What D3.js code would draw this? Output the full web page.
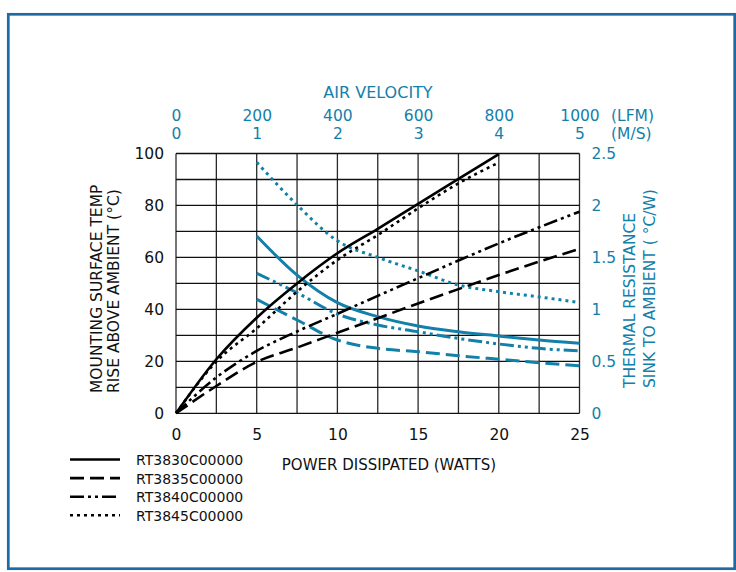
<!DOCTYPE html>
<html>
<head>
<meta charset="utf-8">
<script src="https://cdn.jsdelivr.net/npm/d3@7"></script>
<style>
  body { margin: 0; background: #fff; }
  text { font-family: "DejaVu Sans", sans-serif; }
</style>
</head>
<body>
<svg id="drawing_region"></svg>
<script>
// power dissipated (W) vs mounting surface temp rise (°C)
const power = [0, 2.5, 5, 7.5, 10, 12.5, 15, 17.5, 20, 22.5, 25];
const rt3830Temp = [0, 20.8, 36.8, 50.0, 61.6, 71.0, 80.6, 90.2, 99.8];
const rt3835Temp = [0, 10.5, 19.8, 25.3, 31.0, 36.6, 42.3, 47.8, 53.2, 58.4, 63.3];
const rt3840Temp = [0, 13.8, 24.0, 31.5, 38.3, 45.2, 52.0, 58.8, 65.4, 71.6, 77.6];
const rt3845Temp = [0, 19.9, 32.7, 46.8, 59.0, 68.6, 78.9, 88.5, 96.5];

// air velocity (LFM) vs thermal resistance (°C/W)
const airLfm = [200, 300, 400, 500, 600, 700, 800, 900, 1000];
const rt3830Res = [1.706, 1.33, 1.065, 0.93, 0.84, 0.785, 0.744, 0.705, 0.674];
const rt3835Res = [1.097, 0.898, 0.705, 0.625, 0.593, 0.554, 0.52, 0.487, 0.458];
const rt3840Res = [1.347, 1.16, 0.955, 0.85, 0.785, 0.72, 0.667, 0.625, 0.60];
const rt3845Res = [2.416, 2.005, 1.66, 1.50, 1.37, 1.235, 1.17, 1.12, 1.065];

const models = ["RT3830C00000", "RT3835C00000", "RT3840C00000", "RT3845C00000"];
const powerTicks = [0, 5, 10, 15, 20, 25];
const tempTicks = [0, 20, 40, 60, 80, 100];
const resTicks = [0, 0.5, 1, 1.5, 2, 2.5];
const lfmTicks = [0, 200, 400, 600, 800, 1000];
const msTicks = [0, 1, 2, 3, 4, 5];

const blue = "#1380aa";
const dashes = [null, "14,6", "14,4,3,4,3,4", "3,4"];

const svg = d3.select("#drawing_region")
    .attr("width", 736)
    .attr("height", 572);

// frame
svg.append("rect")
    .attr("x", 8.3).attr("y", 14.3)
    .attr("width", 726.4).attr("height", 554.4)
    .attr("fill", "none")
    .attr("stroke", "#1d6aa5")
    .attr("stroke-width", 2.7);

const x = d3.scaleLinear().domain([0, 25]).range([176, 579.5]);
const xAir = d3.scaleLinear().domain([0, 1000]).range([176, 579.5]);
const xMs = d3.scaleLinear().domain([0, 5]).range([176, 579.5]);
const y = d3.scaleLinear().domain([0, 100]).range([413.3, 153.5]);
const yRes = d3.scaleLinear().domain([0, 2.5]).range([413.3, 153.5]);

// grid
const grid = svg.append("g");
grid.selectAll("line.v")
    .data(d3.range(0, 25.01, 2.5))
    .enter().append("line")
    .attr("x1", d => x(d)).attr("x2", d => x(d))
    .attr("y1", y(0)).attr("y2", y(100))
    .attr("stroke", "#2a2a2a").attr("stroke-width", 1.3);
grid.selectAll("line.h")
    .data(d3.range(0, 100.01, 10))
    .enter().append("line")
    .attr("x1", x(0)).attr("x2", x(25))
    .attr("y1", d => y(d)).attr("y2", d => y(d))
    .attr("stroke", "#111").attr("stroke-width", 1.3);

// axes (labels only, no tick marks)
const fmt = d => String(d);
const bottomAxis = svg.append("g")
    .attr("transform", `translate(0,${y(0)})`)
    .call(d3.axisBottom(x).tickValues(powerTicks).tickSize(0).tickPadding(16).tickFormat(fmt));
const leftAxis = svg.append("g")
    .attr("transform", `translate(${x(0)},0)`)
    .call(d3.axisLeft(y).tickValues(tempTicks).tickSize(0).tickPadding(12).tickFormat(fmt));
const rightAxis = svg.append("g")
    .attr("transform", `translate(${x(25)},0)`)
    .call(d3.axisRight(yRes).tickValues(resTicks).tickSize(0).tickPadding(12).tickFormat(fmt));
const topLfm = svg.append("g")
    .attr("transform", "translate(0,120.5)")
    .call(d3.axisTop(xAir).tickValues(lfmTicks).tickSize(0).tickPadding(0).tickFormat(fmt));
const topMs = svg.append("g")
    .attr("transform", "translate(0,139)")
    .call(d3.axisTop(xMs).tickValues(msTicks).tickSize(0).tickPadding(0).tickFormat(fmt));

[bottomAxis, leftAxis, rightAxis, topLfm, topMs].forEach(g => {
    g.select(".domain").remove();
    g.selectAll("text").attr("font-family", "DejaVu Sans").attr("font-size", 15.5);
});
bottomAxis.selectAll("text").attr("fill", "#111");
leftAxis.selectAll("text").attr("fill", "#111");
rightAxis.selectAll("text").attr("fill", blue);
topLfm.selectAll("text").attr("fill", blue).attr("dy", 0);
topMs.selectAll("text").attr("fill", blue).attr("dy", 0);

// curves
const line = d3.line().curve(d3.curveMonotoneX);
const temps = [rt3830Temp, rt3835Temp, rt3840Temp, rt3845Temp];
const ress = [rt3830Res, rt3835Res, rt3840Res, rt3845Res];

ress.forEach((vals, i) => {
    svg.append("path")
        .attr("d", line(vals.map((v, j) => [xAir(airLfm[j]), yRes(v)])))
        .attr("fill", "none")
        .attr("stroke", blue)
        .attr("stroke-width", 3)
        .attr("stroke-dasharray", dashes[i]);
});
temps.forEach((vals, i) => {
    svg.append("path")
        .attr("d", line(vals.map((v, j) => [x(power[j]), y(v)])))
        .attr("fill", "none")
        .attr("stroke", "#000")
        .attr("stroke-width", 2.6)
        .attr("stroke-dasharray", dashes[i]);
});

// titles
svg.append("text")
    .attr("x", 378).attr("y", 97.5)
    .attr("text-anchor", "middle")
    .attr("font-size", 16).attr("fill", blue)
    .text("AIR VELOCITY");
svg.append("text").attr("x", 611).attr("y", 120.5)
    .attr("font-size", 15.5).attr("fill", blue).text("(LFM)");
svg.append("text").attr("x", 611).attr("y", 139)
    .attr("font-size", 15.5).attr("fill", blue).text("(M/S)");

svg.append("text")
    .attr("x", 389).attr("y", 470)
    .attr("text-anchor", "middle")
    .attr("font-size", 15).attr("fill", "#111")
    .text("POWER DISSIPATED (WATTS)");

const leftTitle = svg.append("g")
    .attr("transform", "translate(0,393) rotate(-90)")
    .attr("font-size", 15.5).attr("fill", "#111");
leftTitle.append("text").attr("x", 0).attr("y", 102).text("MOUNTING SURFACE TEMP");
leftTitle.append("text").attr("x", 0).attr("y", 119).text("RISE ABOVE AMBIENT (°C)");

const rightTitle = svg.append("g")
    .attr("transform", "translate(0,388) rotate(-90)")
    .attr("font-size", 15.5).attr("fill", blue);
rightTitle.append("text").attr("x", 0).attr("y", 635).text("THERMAL RESISTANCE");
rightTitle.append("text").attr("x", 0).attr("y", 655).text("SINK TO AMBIENT ( °C/W)");

// legend
const legend = svg.append("g");
models.forEach((m, i) => {
    const ly = 459.5 + i * 18.6;
    legend.append("line")
        .attr("x1", 70).attr("x2", 120)
        .attr("y1", ly).attr("y2", ly)
        .attr("stroke", "#000").attr("stroke-width", 2.6)
        .attr("stroke-dasharray", dashes[i]);
    legend.append("text")
        .attr("x", 136).attr("y", ly + 5.5)
        .attr("font-size", 14).attr("fill", "#111")
        .text(m);
});
</script>
</body>
</html>
